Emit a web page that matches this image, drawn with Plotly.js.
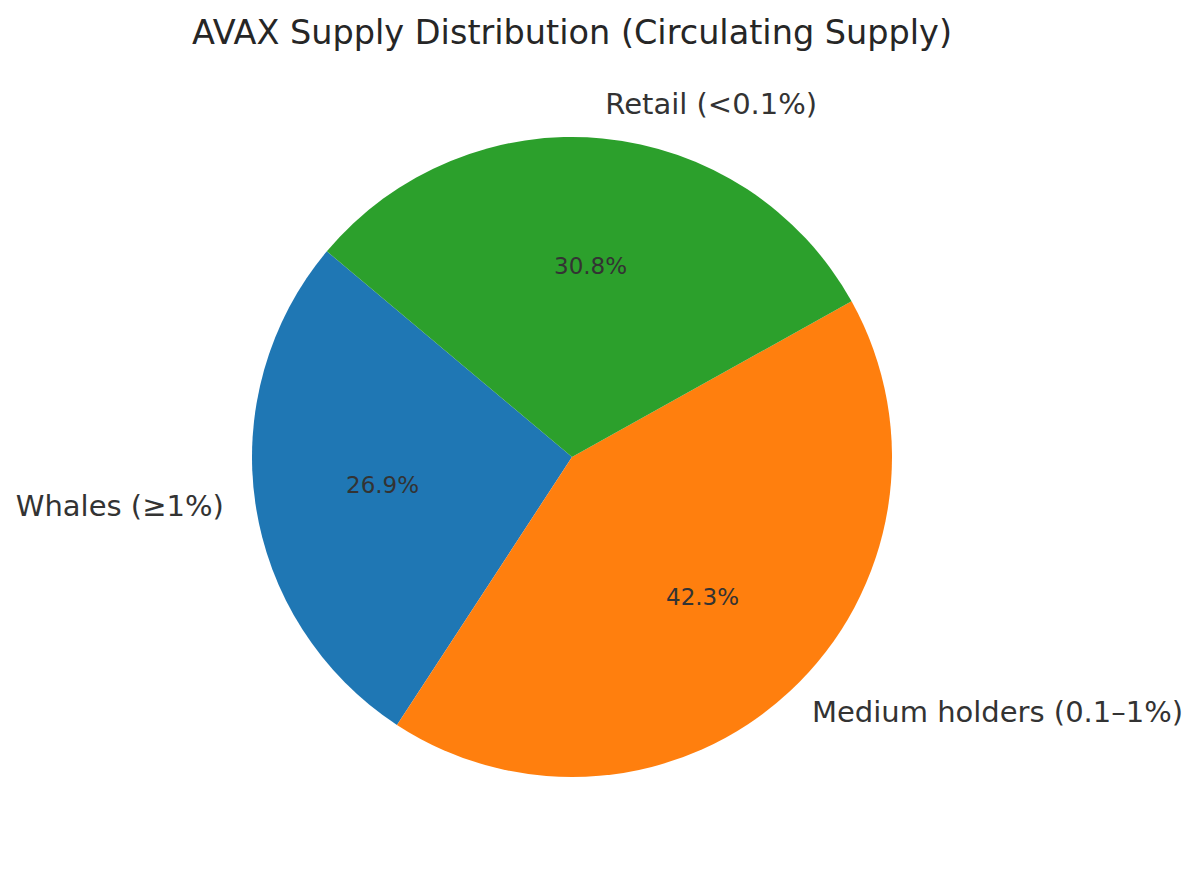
<!DOCTYPE html>
<html>
<head>
<meta charset="utf-8">
<script src="https://cdn.plot.ly/plotly-3.0.1.min.js"></script>
<style>html,body{margin:0;padding:0;background:#fff;}#chart{width:1200px;height:874px;}</style>
</head>
<body>
<div id="chart"></div>
<script>
const categories = ["Whales (≥1%)", "Medium holders (0.1–1%)", "Retail (<0.1%)"];
const shares = [26.9, 42.3, 30.8];
const colors = ["#1f77b4", "#ff7f0e", "#2ca02c"];

const W = 1200, H = 874;
const cx = 572, cy = 457, R = 320;   // pixel geometry of the pie
const startAngle = 140;              // degrees, counterclockwise from 3 o'clock
const textColor = "#333333";
const fontFam = "DejaVu Sans, sans-serif";

const total = shares.reduce((a, b) => a + b, 0);
let acc = startAngle;
const labX = [], labY = [], labPos = [], pctAnn = [];
shares.forEach((v, i) => {
  const sweep = v / total * 360;
  const mid = (acc + sweep / 2) * Math.PI / 180;
  acc += sweep;
  const c = Math.cos(mid), s = Math.sin(mid);
  labX.push(cx + 1.1 * R * c);
  labY.push((H - cy) + 1.1 * R * s);
  labPos.push(c >= 0 ? "middle right" : "middle left");
  pctAnn.push({
    x: cx + 0.6 * R * c, y: (H - cy) + 0.6 * R * s,
    xref: "x", yref: "y",
    text: (v / total * 100).toFixed(1) + "%",
    showarrow: false, xanchor: "center", yanchor: "middle",
    font: {family: fontFam, size: 23, color: textColor}
  });
});

// Plotly places the end of the first (counterclockwise) slice at the rotation angle
const firstEnd = startAngle + shares[0] / total * 360;

const data = [
  {
    type: "pie",
    values: shares,
    labels: categories,
    marker: {colors: colors, line: {width: 0}},
    sort: false,
    direction: "counterclockwise",
    rotation: 90 - firstEnd,
    textinfo: "none",
    hoverinfo: "label+percent",
    showlegend: false,
    domain: {x: [(cx - R) / W, (cx + R) / W], y: [(H - cy - R) / H, (H - cy + R) / H]}
  },
  {
    type: "scatter",
    mode: "text",
    x: labX, y: labY,
    text: categories,
    textposition: labPos,
    textfont: {family: fontFam, size: 29, color: textColor},
    hoverinfo: "skip",
    showlegend: false,
    cliponaxis: false
  }
];

const layout = {
  width: W, height: H,
  margin: {l: 0, r: 0, t: 0, b: 0},
  paper_bgcolor: "#ffffff",
  plot_bgcolor: "rgba(0,0,0,0)",
  title: {
    text: "AVAX Supply Distribution (Circulating Supply)",
    font: {family: fontFam, size: 33.5, color: "#262626"},
    x: 572 / W, xanchor: "center",
    y: 1 - 32 / H, yanchor: "middle"
  },
  xaxis: {range: [0, W], visible: false, fixedrange: true},
  yaxis: {range: [0, H], visible: false, fixedrange: true},
  annotations: pctAnn,
  showlegend: false
};

Plotly.newPlot("chart", data, layout, {displayModeBar: false, staticPlot: true});
</script>
</body>
</html>
